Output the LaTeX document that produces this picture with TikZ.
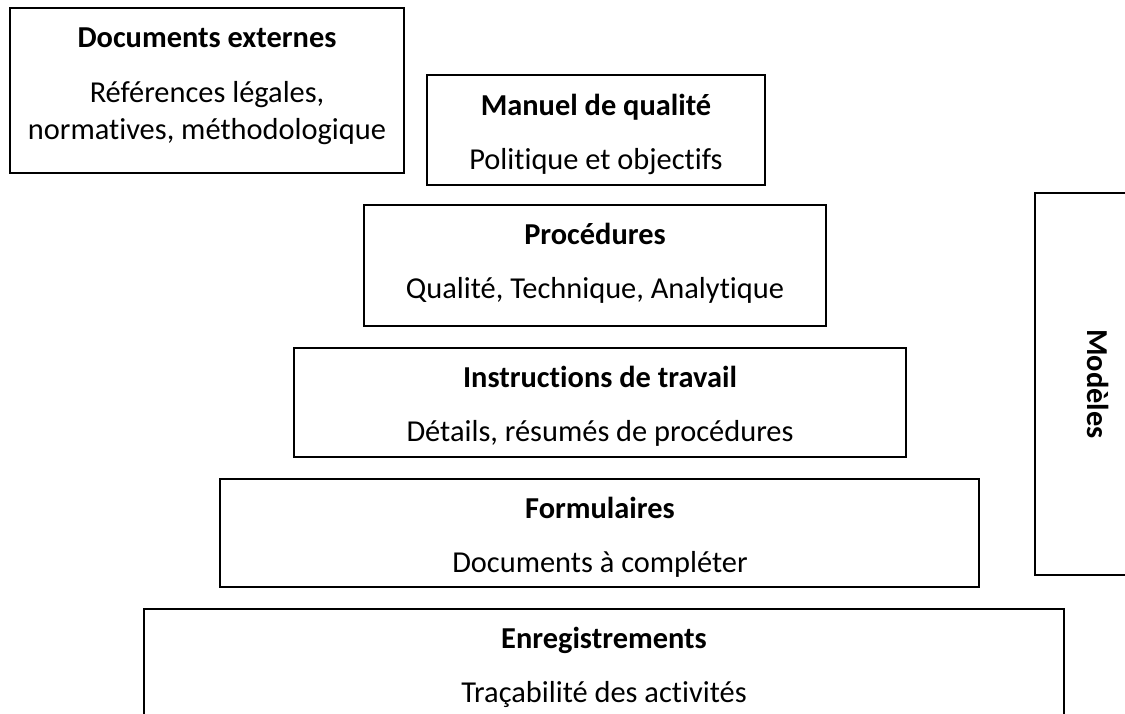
\documentclass[tikz,border=0pt]{standalone}
\usepackage{fontspec}
\setmainfont[Ligatures=NoCommon]{Carlito}
\begin{document}
\begin{tikzpicture}[x=1pt,y=-1pt,
  frame/.style={draw=black,line width=1.8pt},
  ttl/.style={anchor=base,inner sep=0pt,font=\fontsize{30.4}{37}\selectfont\bfseries},
  sub/.style={anchor=base,inner sep=0pt,font=\fontsize{30.4}{37}\selectfont}]
\useasboundingbox (0,0) rectangle (1125,713);
\clip (0,0) rectangle (1125,713);
% boxes
\draw[frame] (10,8) rectangle (404,173);
\draw[frame] (427,75) rectangle (765,185);
\draw[frame] (364,205) rectangle (826,326);
\draw[frame] (294,348) rectangle (906,457);
\draw[frame] (220,479) rectangle (979,587);
\draw[frame] (144,609) rectangle (1064,730);
\draw[frame] (1035,193) rectangle (1140,575);
% texts
\node[ttl] (dt) at (207,47) {Documents externes};
\node[sub] (d1) at (207,102) {Références légales,};
\node[sub] (d2) at (207,139) {normatives, méthodologique};
\node[ttl] (mt) at (596,115) {Manuel de qualité};
\node[sub] (ms) at (596,169) {Politique et objectifs};
\node[ttl] (pt) at (595,244) {Procédures};
\node[sub] (ps) at (595,298) {Qualité, Technique, Analytique};
\node[ttl] (it) at (600,387) {Instructions de travail};
\node[sub] (is) at (600,441) {Détails, résumés de procédures};
\node[ttl] (ft) at (600,518) {Formulaires};
\node[sub] (fs) at (600,572) {Documents à compléter};
\node[ttl] (et) at (604,648) {Enregistrements};
\node[sub] (es) at (604,702) {Traçabilité des activités};
\node[ttl,rotate=-90] (mo) at (1087,384) {Modèles};
\end{tikzpicture}
\end{document}
